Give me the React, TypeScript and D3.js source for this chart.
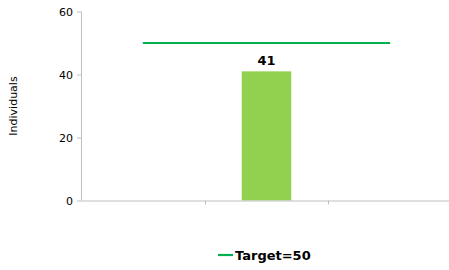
import React from 'react'
import * as d3 from 'd3'

// Data
const categories = ['c1', 'c2', 'c3']
const values: (number | null)[] = [null, 41, null]
const target = [50, 50, 50]
const yTicks = [0, 20, 40, 60]
const targetLabel = 'Target=50'
const yLabel = 'Individuals'

const W = 449
const H = 270
const margin = { top: 11.5, right: -3, bottom: 69.5, left: 81 }
const w = W - margin.left - margin.right
const h = H - margin.top - margin.bottom

const font = 'Tahoma, "DejaVu Sans", Verdana, sans-serif'

export default function App() {
  const x = d3.scaleBand<string>().domain(categories).range([0, w])
  const y = d3.scaleLinear().domain([0, 60]).range([h, 0])
  const barW = x.bandwidth() * 0.4
  const targetLine = d3
    .line<number>()
    .x((d, i) => (x(categories[i]) as number) + x.bandwidth() / 2)
    .y(d => y(d))

  return (
    <svg
      width={W}
      height={H}
      style={{ position: 'absolute', left: 0, top: 0, fontFamily: font }}
    >
      <g transform={`translate(${margin.left},${margin.top})`}>
        {/* y axis */}
        <line x1={0.5} x2={0.5} y1={0} y2={h} stroke="#bfbfbf" />
        {yTicks.map(t => (
          <g key={t} transform={`translate(0,${Math.round(y(t)) + 0.5})`}>
            <line x1={-4} x2={0} stroke="#bfbfbf" />
            <text x={-8} dy="0.35em" textAnchor="end" fontSize={11} fill="#000">
              {t}
            </text>
          </g>
        ))}
        {/* bars */}
        {values.map((v, i) =>
          v == null ? null : (
            <g key={i}>
              <rect
                x={(x(categories[i]) as number) + (x.bandwidth() - barW) / 2}
                y={y(v)}
                width={barW}
                height={h - y(v)}
                fill="#92d050"
              />
              <text
                x={(x(categories[i]) as number) + x.bandwidth() / 2}
                y={y(v) - 6}
                textAnchor="middle"
                fontSize={13}
                fontWeight="bold"
                fill="#000"
              >
                {v}
              </text>
            </g>
          )
        )}
        {/* x axis */}
        <line x1={0} x2={w} y1={h + 0.5} y2={h + 0.5} stroke="#bfbfbf" />
        {categories.slice(1).map(c => (
          <line
            key={c}
            x1={Math.round(x(c) as number) + 0.5}
            x2={Math.round(x(c) as number) + 0.5}
            y1={h}
            y2={h + 4}
            stroke="#bfbfbf"
          />
        ))}
        {/* target */}
        <path d={targetLine(target) || ''} fill="none" stroke="#00b050" strokeWidth={2.2} />
      </g>
      <text
        transform={`translate(17,${margin.top + h / 2}) rotate(-90)`}
        textAnchor="middle"
        fontSize={11}
        fill="#000"
      >
        {yLabel}
      </text>
      {/* legend */}
      <g transform="translate(218,255)">
        <line x1={0} x2={15} y1={0} y2={0} stroke="#00b050" strokeWidth={2.2} />
        <text x={17} dy="0.35em" fontSize={13} fontWeight="bold" fill="#000">
          {targetLabel}
        </text>
      </g>
    </svg>
  )
}
